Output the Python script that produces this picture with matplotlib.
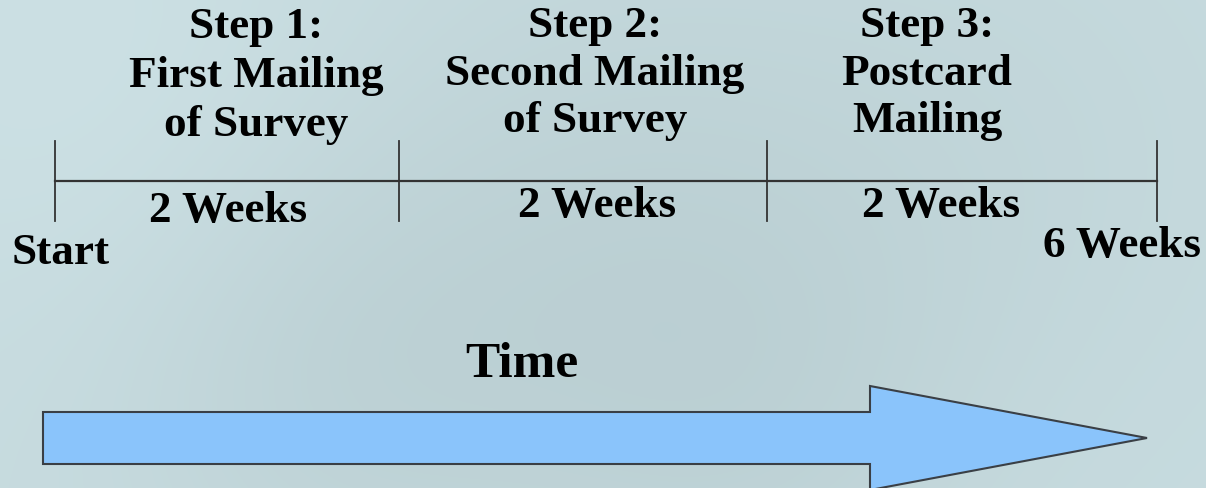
import numpy as np
import matplotlib
matplotlib.use("Agg")
import matplotlib.pyplot as plt
from matplotlib.patches import Polygon

# ---- data ----
step_titles = [["Step 1:", "First Mailing", "of Survey"],
               ["Step 2:", "Second Mailing", "of Survey"],
               ["Step 3:", "Postcard", "Mailing"]]
durations = ["2 Weeks", "2 Weeks", "2 Weeks"]
start_label = "Start"
end_label = "6 Weeks"
axis_label = "Time"

# ---- layout (pixel coordinates) ----
W, H = 1206, 489
fig = plt.figure(figsize=(W / 100, H / 100), dpi=100)
ax = fig.add_axes([0, 0, 1, 1])
ax.set_xlim(0, W)
ax.set_ylim(H, 0)
ax.axis("off")

# background: soft faded photo-like field
yy, xx = np.mgrid[0:H, 0:W]
base = np.array([0.78, 0.86, 0.875])
img = np.ones((H, W, 3)) * base
blobs = [(600, 250, 220, -0.03), (330, 380, 160, -0.025), (1000, 150, 200, -0.015),
         (80, 60, 200, 0.02), (750, 420, 160, -0.02)]
for cx, cy, r, amp in blobs:
    g = np.exp(-((xx - cx) ** 2 + (yy - cy) ** 2) / (2 * r ** 2))
    img += amp * g[..., None]
img = np.clip(img, 0, 1)
ax.imshow(img, extent=(0, W, H, 0), aspect="auto", zorder=0)

font = dict(family="Liberation Serif", fontweight="bold", color="black")
FS = 32.5

# timeline
tick_x = [55, 399, 767, 1157]
line_y = 182
ax.plot([tick_x[0], tick_x[-1]], [line_y, line_y], color="#333333", lw=1.6, zorder=2)
for x in tick_x:
    ax.plot([x, x], [142, 222], color="#333333", lw=1.3, zorder=2)

title_x = [256, 595, 927]
title_baselines = [[38, 87, 136], [37, 85, 132], [37, 85, 132]]
for x, bls, lines in zip(title_x, title_baselines, step_titles):
    for yb, t in zip(bls, lines):
        ax.text(x, yb, t, ha="center", va="baseline", fontsize=FS, **font)

dur_x = [228, 597, 941]
dur_y = [222, 217, 217]
for x, y, d in zip(dur_x, dur_y, durations):
    ax.text(x, y, d, ha="center", va="baseline", fontsize=FS, **font)

ax.text(12, 264, start_label, ha="left", va="baseline", fontsize=FS, **font)
ax.text(1201, 257, end_label, ha="right", va="baseline", fontsize=FS, **font)
ax.text(522, 377, axis_label, ha="center", va="baseline", fontsize=37, **font)

# arrow
arrow = Polygon([(43, 413), (870, 413), (870, 387), (1147, 439), (870, 491),
                 (870, 465), (43, 465)], closed=True,
                facecolor="#8AC4FB", edgecolor="#3a3f45", lw=1.5, zorder=3)
ax.add_patch(arrow)

fig.savefig("out.png", dpi=100)
